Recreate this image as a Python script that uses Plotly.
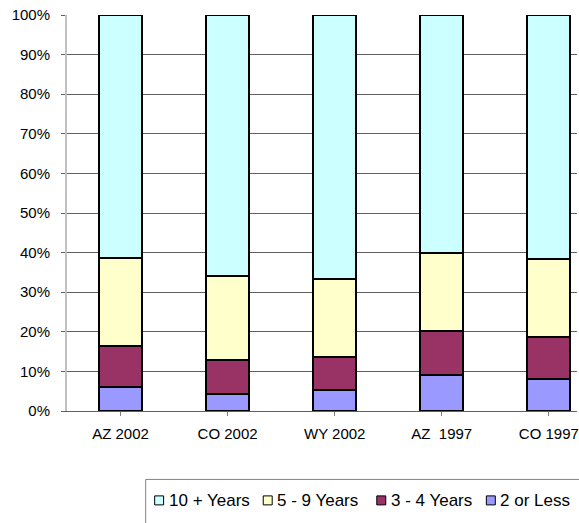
import plotly.graph_objects as go

categories = ["AZ 2002", "CO 2002", "WY 2002", "AZ  1997", "CO 1997"]
two_or_less = [6.1, 4.3, 5.2, 9.0, 8.0]
three_four = [10.3, 8.7, 8.4, 11.1, 10.6]
five_nine = [22.3, 21.2, 19.8, 19.7, 19.9]
ten_plus = [61.3, 65.8, 66.6, 60.2, 61.5]

series = [
    ("2 or Less", two_or_less, "#9999FF"),
    ("3 - 4 Years", three_four, "#993366"),
    ("5 - 9 Years", five_nine, "#FFFFCC"),
    ("10 + Years", ten_plus, "#CCFFFF"),
]
legend_order = ["10 + Years", "5 - 9 Years", "3 - 4 Years", "2 or Less"]
colors = {name: c for name, _, c in series}

FONT = "Arial, Liberation Sans, sans-serif"
W, H = 579, 523
L, T, B = 67, 15, 111.5
PW = W - L
PH = H - T - B
cat_px = 107.5

fig = go.Figure()
for name, vals, col in series:
    fig.add_trace(go.Bar(
        x=list(range(len(categories))), y=vals, name=name,
        marker=dict(color=col, line=dict(color="black", width=2)),
        width=0.4, showlegend=False,
    ))

def px_x(X):
    return (X - L) / PW

def px_y(Y):
    return (H - B - Y) / PH

shapes = []
annotations = []
# legend box
shapes.append(dict(type="rect", xref="paper", yref="paper",
                   x0=px_x(146), x1=px_x(620), y0=px_y(480), y1=px_y(560),
                   line=dict(color="#808080", width=1), fillcolor="rgba(0,0,0,0)"))
sym_x = [155, 264, 378, 488]
txt_x = [167, 276, 390, 500]
for i, name in enumerate(legend_order):
    shapes.append(dict(type="rect", xref="paper", yref="paper",
                       x0=px_x(sym_x[i]), x1=px_x(sym_x[i] + 9),
                       y0=px_y(496.5), y1=px_y(505.5),
                       line=dict(color="black", width=1), fillcolor=colors[name]))
    annotations.append(dict(xref="paper", yref="paper", x=px_x(txt_x[i]), y=px_y(501),
                            xanchor="left", yanchor="middle", showarrow=False,
                            text=name, font=dict(family=FONT, size=17, color="black")))

fig.update_layout(
    width=W, height=H, barmode="stack",
    margin=dict(l=L, r=0, t=T, b=B, pad=0),
    paper_bgcolor="white", plot_bgcolor="white",
    font=dict(family=FONT, size=15, color="black"),
    shapes=shapes, annotations=annotations,
    xaxis=dict(range=[-0.5, -0.5 + PW / cat_px], tickmode="array",
               tickvals=list(range(len(categories))), ticktext=categories,
               tickson="boundaries", ticks="outside", ticklen=4, tickcolor="#808080",
               showline=True, linecolor="#606060", linewidth=1, showgrid=False,
               ticklabelstandoff=5, ticklabeloverflow="allow", fixedrange=True),
    yaxis=dict(range=[0, 100], dtick=10, ticksuffix="%", ticks="outside", ticklen=4,
               tickcolor="#606060", showgrid=True, gridcolor="#606060", gridwidth=1,
               showline=True, linecolor="#C0C0C0", linewidth=2, zeroline=False,
               ticklabelstandoff=8, fixedrange=True),
)

fig.write_html("out.html", config={"displayModeBar": False},
               post_script="document.body.style.margin='0';document.body.style.overflow='hidden';")
